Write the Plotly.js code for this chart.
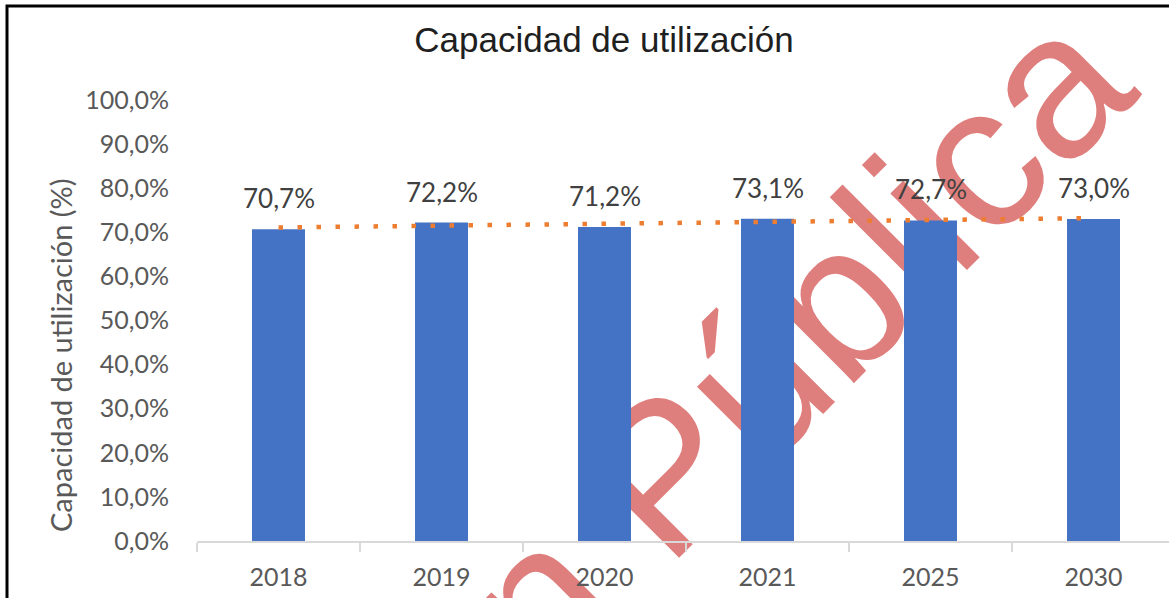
<!DOCTYPE html>
<html>
<head>
<meta charset="utf-8">
<script src="https://cdn.plot.ly/plotly-3.0.1.min.js"></script>
<style>html,body{margin:0;padding:0;background:#fff;}#chart{width:1169px;height:598px;}</style>
</head>
<body>
<div id="chart"></div>
<script>
// Data
const categories = ["2018", "2019", "2020", "2021", "2025", "2030"];
const utilization = [70.7, 72.2, 71.2, 73.1, 72.7, 73.0];
const dataLabels = ["70,7%", "72,2%", "71,2%", "73,1%", "72,7%", "73,0%"];
const chartTitle = "Capacidad de utilización";
const yTitle = "Capacidad de utilización (%)";
const watermark = "Versión Pública";

// Linear trendline (least squares over category index)
const n = utilization.length;
const xs = utilization.map((_, i) => i + 1);
const mx = xs.reduce((a, b) => a + b, 0) / n;
const my = utilization.reduce((a, b) => a + b, 0) / n;
let sxy = 0, sxx = 0;
for (let i = 0; i < n; i++) { sxy += (xs[i] - mx) * (utilization[i] - my); sxx += (xs[i] - mx) ** 2; }
const slope = sxy / sxx, intercept = my - slope * mx;
const trend = xs.map(x => intercept + slope * x);

// Pixel helpers for paper coords
const L = 197, R = 1169, T = 100, B = 541;
const px = x => (x - L) / (R - L);
const py = y => (B - y) / (B - T);

const bars = {
  type: "bar", x: categories, y: utilization,
  marker: { color: "#4472C4" }, width: 0.325,
  hoverinfo: "skip"
};
const trendLine = {
  type: "scatter", mode: "lines", x: categories, y: trend,
  line: { color: "#ED7D31", width: 4.5, dash: "4.5px,14.5px" },
  hoverinfo: "skip"
};

// data labels placed at category index (numeric) to avoid "2018" being read as an index
const labelAnnotations = categories.map((c, i) => ({
  x: i, y: utilization[i], xref: "x", yref: "y",
  text: dataLabels[i], showarrow: false, yshift: 31, yanchor: "middle",
  font: { family: "Lato, 'Open Sans', sans-serif", size: 26, color: "#404040" }
}));

const layout = {
  width: 1169, height: 598,
  margin: { l: L, r: 0, t: T, b: 598 - B },
  paper_bgcolor: "#ffffff", plot_bgcolor: "rgba(0,0,0,0)",
  separators: ",.",
  showlegend: false,
  title: {
    text: chartTitle, xref: "container", yref: "container",
    x: 604 / 1169, y: 1 - 40 / 598, xanchor: "center", yanchor: "middle",
    font: { family: "'Liberation Sans', Arial, sans-serif", size: 35, color: "#1f1f1f" }
  },
  xaxis: {
    type: "category", range: [-0.5, -0.5 + (R - L) / 163],
    showgrid: false, zeroline: false,
    showline: true, linecolor: "#d9d9d9", linewidth: 1.5,
    ticks: "outside", tickson: "boundaries", ticklen: 9, tickcolor: "#d9d9d9", tickwidth: 1.5,
    ticklabelstandoff: 13,
    tickfont: { family: "Lato, 'Open Sans', sans-serif", size: 25, color: "#595959" }
  },
  yaxis: {
    range: [0, 100], dtick: 10, tick0: 0,
    showgrid: false, zeroline: false, showline: false,
    tickformat: ".1f", ticksuffix: "%",
    ticks: "outside", ticklen: 22, tickcolor: "rgba(0,0,0,0)",
    tickfont: { family: "Lato, 'Open Sans', sans-serif", size: 25, color: "#595959" }
  },
  annotations: labelAnnotations.concat([{
    xref: "paper", yref: "paper", x: px(60), y: py(355),
    text: yTitle, textangle: -90, showarrow: false,
    xanchor: "center", yanchor: "middle",
    font: { family: "Lato, 'Open Sans', sans-serif", size: 29, color: "#595959" }
  }]),
  shapes: [
    {
      type: "rect", xref: "paper", yref: "paper", layer: "below",
      x0: px(579), x1: px(579), y0: py(530), y1: py(530),
      line: { width: 0 }, fillcolor: "rgba(0,0,0,0)",
      label: {
        text: watermark, textangle: -45, textposition: "middle center",
        font: { family: "'Liberation Sans', Arial, sans-serif", size: 205, color: "#DF7F7D" }
      }
    },
    {
      type: "rect", xref: "paper", yref: "paper", layer: "above",
      x0: px(7), x1: px(1200), y0: py(6), y1: py(640),
      line: { color: "#000000", width: 3 }, fillcolor: "rgba(0,0,0,0)"
    }
  ]
};

Plotly.newPlot("chart", [bars, trendLine], layout, { displayModeBar: false, staticPlot: true });
</script>
</body>
</html>
